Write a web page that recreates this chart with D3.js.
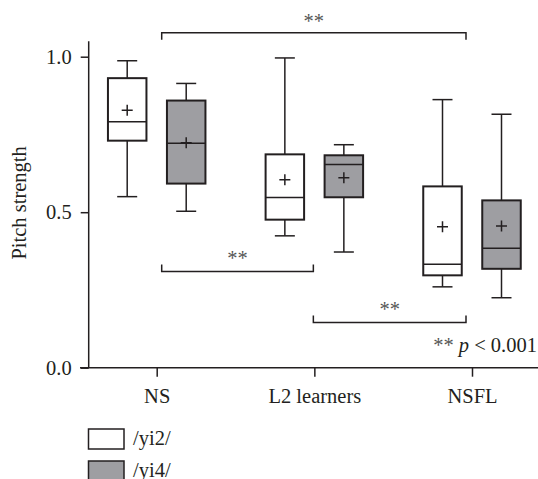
<!DOCTYPE html>
<html>
<head>
<meta charset="utf-8">
<script src="https://cdn.jsdelivr.net/npm/d3@7"></script>
<style>
  body { margin: 0; background: #fff; }
</style>
</head>
<body>
<svg id="chart" width="538" height="479"></svg>
<script>
var categories = ["NS", "L2 learners", "NSFL"];
var seriesNames = ["/yi2/", "/yi4/"];
var yTicks = [0.0, 0.5, 1.0];

// /yi2/ box stats per category
var yi2Low = [0.550, 0.424, 0.260];
var yi2Q1 = [0.730, 0.476, 0.297];
var yi2Median = [0.791, 0.547, 0.333];
var yi2Q3 = [0.931, 0.686, 0.583];
var yi2High = [0.987, 0.996, 0.862];
var yi2Mean = [0.828, 0.604, 0.453];

// /yi4/ box stats per category
var yi4Low = [0.503, 0.372, 0.225];
var yi4Q1 = [0.592, 0.548, 0.318];
var yi4Median = [0.722, 0.653, 0.384];
var yi4Q3 = [0.859, 0.683, 0.538];
var yi4High = [0.914, 0.717, 0.815];
var yi4Mean = [0.723, 0.611, 0.456];

// significance brackets
var bracketFrom = ["NS", "NS", "L2 learners"];
var bracketTo = ["NSFL", "L2 learners", "NSFL"];
var bracketLevel = [1.077, 0.309, 0.145];
var bracketLabel = ["**", "**", "**"];

var ink = "#231f20";
var fontFam = "'Liberation Serif', 'DejaVu Serif', serif";
var fs = 20.5;
var fills = ["#ffffff", "#9e9ea2"];
var svg = d3.select("#chart");

function serif(sel) {
  return sel.style("font-family", fontFam).style("font-size", fs + "px").attr("fill", ink);
}

var y = d3.scaleLinear().domain([0, 1]).range([367.7, 56.7]);
var x = d3.scalePoint().domain(categories).range([156.7, 472]);
var offset = [-29.5, 29.5];
var boxW = 38.5;
var capW = 20;

// axes
var yAxis = d3.axisLeft(y).tickValues(yTicks).tickSize(8).tickPadding(9).tickFormat(d3.format(".1f"));
var gy = svg.append("g").attr("transform", "translate(88.7,0)").call(yAxis);
gy.select(".domain").remove();
gy.selectAll("line").attr("stroke", ink).attr("stroke-width", 1.5);
serif(gy.selectAll("text")).attr("dy", "0.33em");

var xAxis = d3.axisBottom(x).tickSize(9).tickPadding(12);
var gx = svg.append("g").attr("transform", "translate(0," + y(0) + ")").call(xAxis);
gx.select(".domain").remove();
gx.selectAll("line").attr("stroke", ink).attr("stroke-width", 1.5);
serif(gx.selectAll("text")).attr("dy", "0.71em");

svg.append("line").attr("x1", 88.7).attr("x2", 88.7).attr("y1", y(1.05)).attr("y2", y(0))
  .attr("stroke", ink).attr("stroke-width", 1.5);
svg.append("line").attr("x1", 80).attr("x2", 538).attr("y1", y(0)).attr("y2", y(0))
  .attr("stroke", ink).attr("stroke-width", 1.5);

serif(svg.append("text"))
  .attr("transform", "translate(26," + y(0.53) + ") rotate(-90)")
  .attr("text-anchor", "middle")
  .text("Pitch strength");

// boxes
var series = [
  { low: yi2Low, q1: yi2Q1, med: yi2Median, q3: yi2Q3, high: yi2High, mean: yi2Mean },
  { low: yi4Low, q1: yi4Q1, med: yi4Median, q3: yi4Q3, high: yi4High, mean: yi4Mean }
];

function drawBox(s, k) {
  categories.forEach(function(c, i) {
    var cx = x(c) + offset[k];
    var g = svg.append("g");
    g.append("line").attr("x1", cx).attr("x2", cx).attr("y1", y(s.high[i])).attr("y2", y(s.q3[i]));
    g.append("line").attr("x1", cx).attr("x2", cx).attr("y1", y(s.q1[i])).attr("y2", y(s.low[i]));
    g.append("line").attr("x1", cx - capW / 2).attr("x2", cx + capW / 2).attr("y1", y(s.high[i])).attr("y2", y(s.high[i]));
    g.append("line").attr("x1", cx - capW / 2).attr("x2", cx + capW / 2).attr("y1", y(s.low[i])).attr("y2", y(s.low[i]));
    g.append("rect")
      .attr("x", cx - boxW / 2).attr("width", boxW)
      .attr("y", y(s.q3[i])).attr("height", y(s.q1[i]) - y(s.q3[i]))
      .attr("fill", fills[k]).attr("stroke-width", 2);
    g.append("line").attr("x1", cx - boxW / 2).attr("x2", cx + boxW / 2).attr("y1", y(s.med[i])).attr("y2", y(s.med[i]));
    var my = y(s.mean[i]);
    g.append("path").attr("d", "M" + (cx - 5.5) + "," + my + "H" + (cx + 5.5) + "M" + cx + "," + (my - 5.5) + "V" + (my + 5.5));
    g.selectAll("line,rect,path").attr("stroke", ink);
    g.selectAll("line,path").attr("stroke-width", 1.5);
  });
}
series.forEach(drawBox);

// brackets
var endShift = { "NS": 5, "L2 learners": -1, "NSFL": -6 };
bracketLevel.forEach(function(v, i) {
  var x1 = x(bracketFrom[i]) + endShift[bracketFrom[i]];
  var x2 = x(bracketTo[i]) + endShift[bracketTo[i]];
  var by = y(v);
  var dir = v > 1 ? 7 : -7;
  svg.append("path")
    .attr("d", "M" + x1 + "," + (by + dir) + "V" + by + "H" + x2 + "V" + (by + dir))
    .attr("fill", "none").attr("stroke", ink).attr("stroke-width", 1.5);
  serif(svg.append("text"))
    .attr("x", (x1 + x2) / 2).attr("y", v > 1 ? by - 5 : by - 7)
    .attr("text-anchor", "middle").attr("fill", "#555")
    .text(bracketLabel[i]);
});

var note = serif(svg.append("text")).attr("x", 537).attr("y", 352).attr("text-anchor", "end");
note.append("tspan").attr("fill", "#555").text("** ");
note.append("tspan").attr("font-style", "italic").text("p");
note.append("tspan").text(" < 0.001");

// legend
seriesNames.forEach(function(n, k) {
  var ly = 429 + k * 32;
  svg.append("rect").attr("x", 88.5).attr("y", ly).attr("width", 35.5).attr("height", 20)
    .attr("fill", fills[k]).attr("stroke", ink).attr("stroke-width", 1.5);
  serif(svg.append("text")).attr("x", 133).attr("y", ly + 16).text(n);
});
</script>
</body>
</html>
